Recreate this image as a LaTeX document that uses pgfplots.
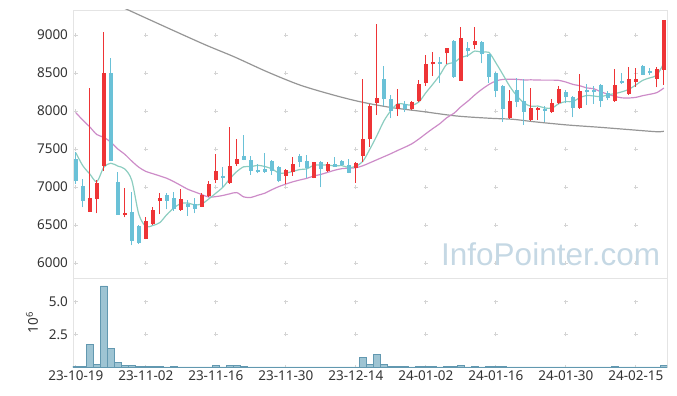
\documentclass[border=0pt]{standalone}
\usepackage{pgfplots}
\pgfplotsset{compat=1.18}
\usepackage{pgfplotstable}
\usepackage{fontspec}
\setmainfont{Noto Sans}
\newfontfamily\wmfont{Liberation Sans}

\definecolor{cRed}{RGB}{238,52,54}
\definecolor{cBlue}{RGB}{106,193,215}
\definecolor{cMAa}{RGB}{140,205,192}
\definecolor{cMAb}{RGB}{205,140,200}
\definecolor{cMAc}{RGB}{150,150,150}
\definecolor{cFrame}{RGB}{228,228,228}
\definecolor{cCross}{RGB}{212,212,212}
\definecolor{cVolF}{RGB}{158,196,211}
\definecolor{cVolD}{RGB}{98,152,176}
\definecolor{cWM}{RGB}{197,216,228}
\definecolor{cTxt}{RGB}{51,51,51}

% up (red) candles: index open high low close
\pgfplotstableread{
i o h l c
2 6675 8298 6670 6851
3 6846 7092 6654 7048
4 7280 9036 7214 8496
7 6635 6983 6601 6662
10 6319 6601 6310 6548
11 6509 6733 6500 6697
12 6815 6917 6644 6851
15 6697 6969 6690 6838
18 6740 6917 6735 6890
19 6885 7083 6870 7039
20 7092 7430 7048 7210
22 7057 7785 7039 7276
23 7298 7627 7280 7368
30 7148 7235 7039 7219
31 7201 7399 7148 7302
34 7122 7333 7114 7324
36 7210 7324 7200 7298
40 7254 7333 7057 7320
41 7412 8417 7333 7627
42 7627 8092 7530 8066
43 8101 9141 7947 8167
46 8022 8285 7934 8088
48 8022 8130 8010 8118
49 8128 8408 8120 8355
50 8372 8737 8329 8618
51 8614 8772 8460 8650
53 8759 8833 8618 8833
55 8399 9109 8399 8956
57 8868 9109 8812 8921
62 7912 8276 7900 8131
65 7881 8298 7870 8043
66 8017 8057 7881 8039
68 7991 8154 7980 8110
69 8110 8329 8090 8285
72 8043 8487 8030 8263
77 8131 8549 8120 8342
79 8224 8583 8210 8417
80 8386 8561 8320 8421
83 8421 8583 8312 8549
84 8539 9197 8342 9197
}\upT

% down (blue) candles: index open high low close
\pgfplotstableread{
i o h l c
0 7364 7464 7039 7083
1 7013 7101 6733 6819
5 8496 8693 7346 7346
6 7061 7201 6635 6635
8 6667 6930 6232 6293
9 6486 6500 6250 6267
13 6894 6917 6706 6819
14 6859 6930 6690 6706
16 6772 6829 6618 6736
17 6772 6851 6654 6714
21 7144 7267 7004 7118
24 7408 7684 7350 7355
25 7355 7408 7158 7214
26 7228 7298 7180 7203
27 7230 7451 7190 7200
28 7342 7350 7158 7215
29 7260 7275 7060 7083
32 7408 7438 7259 7333
33 7346 7421 7122 7254
35 7333 7340 6996 7236
37 7302 7399 7260 7267
38 7346 7360 7280 7285
39 7289 7364 7180 7188
44 8421 8592 8066 8154
45 8154 8210 7904 8004
47 8096 8130 7985 8022
52 8650 8714 8372 8622
54 8921 8930 8440 8451
56 8824 8904 8714 8785
58 8912 8920 8627 8746
59 8746 8750 8372 8451
60 8496 8510 8180 8267
61 8329 8340 7859 8022
63 8276 8430 8048 8123
64 8131 8417 7816 7991
67 8030 8060 7859 8004
70 8254 8270 8101 8180
71 8180 8200 7917 8043
73 8270 8360 8079 8245
74 8270 8329 8092 8245
75 8342 8350 8048 8136
76 8241 8260 8140 8167
78 8399 8496 8360 8364
81 8592 8600 8474 8474
82 8522 8560 8480 8497
}\downT

% 5-day moving average
\pgfplotstableread{
i m
0 7451
1 7280
2 7171
3 7070
4 7259
5 7312
6 7275
7 7237
8 7086
9 6641
10 6481
11 6493
12 6531
13 6636
14 6724
15 6782
16 6790
17 6763
18 6777
19 6843
20 6918
21 6995
22 7107
23 7203
24 7266
25 7267
26 7285
27 7269
28 7239
29 7184
30 7185
31 7204
32 7230
33 7238
34 7286
35 7290
36 7289
37 7276
38 7282
39 7255
40 7272
41 7337
42 7497
43 7674
44 7867
45 8004
46 8096
47 8087
48 8077
49 8117
50 8240
51 8353
52 8473
53 8616
54 8635
55 8703
56 8730
57 8789
58 8772
59 8772
60 8634
61 8481
62 8323
63 8199
64 8107
65 8062
66 8065
67 8040
68 8037
69 8096
70 8124
71 8124
72 8176
73 8204
74 8197
75 8188
76 8213
77 8229
78 8252
79 8285
80 8342
81 8404
82 8436
83 8473
84 8629
}\maA

% 20-day moving average
\pgfplotstableread{
i m
0 7978
1 7880
2 7790
3 7690
4 7654
5 7590
6 7500
7 7430
8 7340
9 7260
10 7205
11 7175
12 7145
13 7114
14 7070
15 7020
16 6970
17 6935
18 6900
19 6867
20 6873
21 6888
22 6910
23 6926
24 6869
25 6862
26 6891
27 6918
28 6964
29 7005
30 7038
31 7068
32 7092
33 7114
34 7145
35 7165
36 7193
37 7221
38 7241
39 7248
40 7253
41 7279
42 7318
43 7358
44 7398
45 7438
46 7482
47 7523
48 7568
49 7631
50 7701
51 7769
52 7833
53 7912
54 7969
55 8055
56 8129
57 8212
58 8285
59 8348
60 8395
61 8415
62 8418
63 8416
64 8408
65 8410
66 8407
67 8406
68 8406
69 8403
70 8381
71 8350
72 8332
73 8303
74 8293
75 8252
76 8221
77 8192
78 8173
79 8171
80 8179
81 8202
82 8220
83 8242
84 8302
}\maB

% long moving average
\pgfplotstableread{
i m
0 9650
7.5 9329
17.8 8899
22.6 8714
27.3 8517
32 8342
36.8 8210
40.6 8122
44.9 8048
49.7 7991
54.4 7934
59.2 7904
62.4 7891
65.4 7859
70.2 7816
74.9 7785
79.7 7750
83 7727
84 7733
}\maC

% volume in millions
\pgfplotstableread{
i v
0 0.06
1 0.06
2 1.74
3 0.20
4 6.19
5 1.41
6 0.36
7 0.13
8 0.13
9 0.05
10 0.05
11 0.05
12 0.05
13 0.01
14 0.06
15 0.01
16 0.01
17 0.01
18 0.01
19 0.01
20 0.12
21 0.01
22 0.12
23 0.12
24 0.05
25 0.01
26 0.01
27 0.01
28 0.01
29 0.01
30 0.01
31 0.01
32 0.01
33 0.01
34 0.01
35 0.01
36 0.01
37 0.01
38 0.01
39 0.01
40 0.01
41 0.72
42 0.18
43 0.95
44 0.18
45 0.05
46 0.05
47 0.05
48 0.01
49 0.05
50 0.05
51 0.05
52 0.01
53 0.05
54 0.05
55 0.12
56 0.01
57 0.05
58 0.01
59 0.05
60 0.05
61 0.05
62 0.01
63 0.01
64 0.01
65 0.01
66 0.01
67 0.01
68 0.01
69 0.01
70 0.01
71 0.01
72 0.01
73 0.01
74 0.01
75 0.01
76 0.01
77 0.05
78 0.01
79 0.01
80 0.01
81 0.01
82 0.01
83 0.01
84 0.12
}\volT

\begin{document}
\begin{tikzpicture}
\useasboundingbox (-73pt,10pt) rectangle (604pt,-386pt);
\begin{axis}[
  name=price, at={(0pt,0pt)}, anchor=north west,
  scale only axis, width=594pt, height=268pt,
  xmin=-0.4, xmax=84.45, ymin=5802, ymax=9329,
  xtick={0,10,...,80}, xticklabels={},
  ytick={6000,6500,7000,7500,8000,8500,9000},
  yticklabels={6000,6500,7000,7500,8000,8500,9000},
  tick style={draw=none},
  axis line style={draw=cFrame, line width=0.8pt},
  xmajorgrids, ymajorgrids,
  x grid style={draw=cCross, line width=0.9pt, dash pattern=on 4pt off 33.99pt, dash phase=24.95pt},
  y grid style={draw=cCross, line width=0.9pt, dash pattern=on 4pt off 66.006pt, dash phase=69.2pt},
  yticklabel style={font=\fontsize{13.5}{15}\selectfont, text=cTxt, xshift=-1.5pt},
]
\node[anchor=base west, text=cWM, font=\wmfont\fontsize{31.5}{32}\selectfont, inner sep=0pt] at (rel axis cs:0.6195,0.0448) {InfoPointer.com};
\addplot[cMAc, line width=1.2pt, smooth] table[x=i,y=m]{\maC};
\addplot[cMAb, line width=1.2pt, smooth] table[x=i,y=m]{\maB};
\addplot[cMAa, line width=1.2pt, smooth] table[x=i,y=m]{\maA};
% wicks
\addplot[draw=none, error bars/.cd, y dir=plus, y explicit, error mark=none,
  error bar style={draw=cRed, line width=1pt}]
  table[x=i, y=l, y error expr=\thisrow{h}-\thisrow{l}]{\upT};
\addplot[draw=none, error bars/.cd, y dir=plus, y explicit, error mark=none,
  error bar style={draw=cBlue, line width=1pt}]
  table[x=i, y=l, y error expr=\thisrow{h}-\thisrow{l}]{\downT};
% bodies
\addplot[draw=none, error bars/.cd, y dir=plus, y explicit, error mark=none,
  error bar style={draw=cRed, line width=4.6pt}]
  table[x=i, y=o, y error expr=\thisrow{c}-\thisrow{o}]{\upT};
\addplot[draw=none, error bars/.cd, y dir=plus, y explicit, error mark=none,
  error bar style={draw=cBlue, line width=4.6pt}]
  table[x=i, y=c, y error expr=\thisrow{o}-\thisrow{c}]{\downT};
\end{axis}
\begin{axis}[
  at={(price.south west)}, anchor=north west,
  scale only axis, width=594pt, height=89pt,
  xmin=-0.4, xmax=84.45, ymin=0, ymax=6.8,
  xtick={0,10,...,80},
  xticklabels={23-10-19,23-11-02,23-11-16,23-11-30,23-12-14,24-01-02,24-01-16,24-01-30,24-02-15},
  ytick={2.5,5}, yticklabels={2.5,5.0},
  tick style={draw=none},
  axis line style={draw=cFrame, line width=0.8pt},
  xmajorgrids, ymajorgrids,
  x grid style={draw=cCross, line width=0.9pt, dash pattern=on 4pt off 28.72pt, dash phase=2pt},
  y grid style={draw=cCross, line width=0.9pt, dash pattern=on 4pt off 66.006pt, dash phase=69.2pt},
  yticklabel style={font=\fontsize{13.5}{15}\selectfont, text=cTxt, xshift=-1.5pt},
  xticklabel style={font=\fontsize{13.5}{15}\selectfont, text=cTxt},
  ylabel={10\textsuperscript{6}},
  ylabel style={at={(axis description cs:-0.069,0.5)}, anchor=center, font=\fontsize{13.5}{15}\selectfont, text=cTxt},
]
\addplot[ybar, bar width=1, fill=cVolF, draw=cVolD, line width=0.6pt] table[x=i,y=v]{\volT};
\end{axis}
\end{tikzpicture}
\end{document}
